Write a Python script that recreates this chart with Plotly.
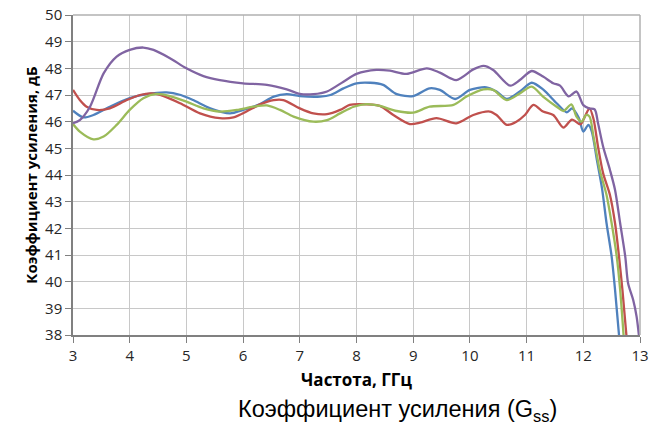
import plotly.graph_objects as go

# Frequency (GHz) / gain (dB) per series
blue_x = [3.0, 3.18, 3.36, 3.65, 4.0, 4.3, 4.65, 4.9, 5.12, 5.42, 5.77, 6.0, 6.3, 6.54, 6.77, 7.0, 7.36, 7.54, 7.77, 8.0,
          8.24, 8.47, 8.71, 9.0, 9.29, 9.47, 9.74, 10.0, 10.29, 10.47, 10.65, 10.88, 11.09, 11.29, 11.53, 11.71, 11.8,
          11.92, 12.0, 12.09, 12.15, 12.24, 12.33, 12.41, 12.5, 12.56, 12.63]
blue_y = [46.41, 46.16, 46.25, 46.56, 46.88, 47.03, 47.1, 47.0, 46.81, 46.5, 46.31, 46.44, 46.66, 46.94, 47.03, 46.96,
          46.94, 47.0, 47.25, 47.44, 47.46, 47.38, 47.03, 46.96, 47.25, 47.19, 46.85, 47.19, 47.29, 47.13, 46.85, 47.13,
          47.46, 47.21, 46.69, 46.35, 46.5, 46.15, 45.63, 45.88, 45.63, 44.56, 43.5, 42.19, 40.94, 39.69, 38.0]

red_x = [3.0, 3.12, 3.24, 3.42, 3.65, 3.95, 4.18, 4.39, 4.6, 4.89, 5.24, 5.59, 5.83, 6.06, 6.3, 6.54, 6.71, 7.0, 7.24,
         7.48, 7.71, 7.88, 8.06, 8.41, 8.65, 8.94, 9.12, 9.41, 9.76, 10.06, 10.35, 10.47, 10.65, 10.82, 10.97, 11.12,
         11.29, 11.47, 11.65, 11.8, 11.95, 12.03, 12.11, 12.18, 12.26, 12.35, 12.47, 12.56, 12.63, 12.69, 12.76]
red_y = [47.19, 46.81, 46.56, 46.44, 46.5, 46.81, 47.0, 47.06, 46.96, 46.69, 46.31, 46.13, 46.16, 46.38, 46.65, 46.81,
         46.81, 46.5, 46.31, 46.28, 46.44, 46.63, 46.66, 46.59, 46.25, 45.91, 45.96, 46.13, 45.94, 46.25, 46.38, 46.25,
         45.88, 46.0, 46.25, 46.63, 46.38, 46.25, 45.78, 46.08, 45.9, 46.2, 46.5, 46.1, 45.06, 44.06, 43.25, 42.19,
         40.94, 39.69, 38.0]

green_x = [3.0, 3.12, 3.36, 3.54, 3.77, 4.0, 4.24, 4.48, 4.71, 5.0, 5.3, 5.59, 5.89, 6.18, 6.42, 6.65, 6.89, 7.24,
           7.48, 7.71, 7.95, 8.18, 8.41, 8.71, 9.0, 9.29, 9.71, 9.94, 10.24, 10.41, 10.65, 10.88, 11.09, 11.29, 11.53,
           11.65, 11.79, 11.88, 11.97, 12.05, 12.11, 12.18, 12.29, 12.41, 12.5, 12.59, 12.65, 12.71]
green_y = [45.91, 45.63, 45.34, 45.44, 45.88, 46.44, 46.88, 47.04, 46.96, 46.75, 46.5, 46.38, 46.44, 46.56, 46.61,
           46.44, 46.19, 46.0, 46.06, 46.31, 46.56, 46.66, 46.59, 46.4, 46.34, 46.56, 46.63, 46.94, 47.21, 47.19, 46.81,
           47.06, 47.31, 46.94, 46.56, 46.4, 46.65, 46.19, 46.0, 46.25, 46.19, 45.44, 44.19, 43.25, 42.19, 40.94, 39.69,
           38.0]

purple_x = [3.0, 3.12, 3.3, 3.54, 3.77, 4.0, 4.24, 4.42, 4.71, 5.0, 5.3, 5.59, 6.0, 6.42, 6.77, 7.0, 7.24, 7.48, 7.77,
            8.0, 8.35, 8.59, 8.88, 9.24, 9.47, 9.76, 10.06, 10.24, 10.41, 10.71, 10.88, 11.09, 11.29, 11.47, 11.59,
            11.74, 11.88, 12.0, 12.1, 12.2, 12.26, 12.35, 12.47, 12.56, 12.65, 12.74, 12.79, 12.88, 12.94, 12.98]
purple_y = [45.94, 46.06, 46.56, 47.81, 48.44, 48.69, 48.78, 48.69, 48.38, 48.0, 47.71, 47.56, 47.44, 47.38, 47.21,
            47.04, 47.03, 47.13, 47.5, 47.79, 47.94, 47.91, 47.79, 48.0, 47.84, 47.56, 47.96, 48.09, 47.94, 47.35,
            47.56, 47.9, 47.69, 47.44, 47.35, 46.95, 47.13, 46.62, 46.5, 46.46, 45.94, 45.06, 44.19, 43.44, 42.19,
            40.94, 39.94, 39.31, 38.69, 38.0]

x_ticks = [3, 4, 5, 6, 7, 8, 9, 10, 11, 12, 13]
y_ticks = [38, 39, 40, 41, 42, 43, 44, 45, 46, 47, 48, 49, 50]

series = [
    (blue_x, blue_y, "#4F81BD"),
    (red_x, red_y, "#C0504D"),
    (green_x, green_y, "#9BBB59"),
    (purple_x, purple_y, "#8064A2"),
]

fig = go.Figure()
for xs, ys, col in series:
    fig.add_trace(go.Scatter(x=xs, y=ys, mode="lines",
                             line=dict(color=col, width=2.3, shape="spline", smoothing=0.8),
                             showlegend=False, hoverinfo="skip"))

FONT = "Open Sans, Noto Sans, sans-serif"
tick_font = dict(family=FONT, size=15, color="#262626")
fig.update_layout(
    width=652, height=427,
    margin=dict(l=73, r=12, t=15, b=92, autoexpand=False),
    paper_bgcolor="white", plot_bgcolor="white",
    xaxis=dict(range=[3, 13], tickvals=x_ticks, ticktext=[str(v) for v in x_ticks],
               showgrid=True, gridcolor="#C8C8C8", gridwidth=1.3,
               showline=True, linecolor="#808080", linewidth=1.5, mirror=False,
               ticks="outside", ticklen=6, tickcolor="#808080", tickwidth=1.2,
               tickfont=tick_font, zeroline=False,
               title=dict(text="<b>Частота, ГГц</b>", font=dict(family=FONT, size=17, color="#000"),
                          standoff=10)),
    yaxis=dict(range=[38, 50], tickvals=y_ticks, ticktext=[str(v) for v in y_ticks],
               showgrid=True, gridcolor="#C8C8C8", gridwidth=1.3,
               showline=True, linecolor="#808080", linewidth=1.5,
               ticks="outside", ticklen=6, tickcolor="#808080", tickwidth=1.2,
               tickfont=tick_font, zeroline=False,
               title=dict(text="<b>Коэффициент усиления, дБ</b>",
                          font=dict(family=FONT, size=15, color="#000"), standoff=4)),
)
# top and right frame lines (grid-coloured)
fig.add_shape(type="line", xref="paper", yref="paper", x0=0, x1=1, y0=1, y1=1,
              line=dict(color="#B0B0B0", width=1.5))
fig.add_shape(type="line", xref="paper", yref="paper", x0=1, x1=1, y0=0, y1=1,
              line=dict(color="#B0B0B0", width=1.5))

fig.add_annotation(text="Коэффициент усиления (G<sub>ss</sub>)", xref="paper", yref="paper",
                   x=(397 - 73) / (640 - 73), y=-(410 - 335) / 320, xanchor="center", yanchor="middle",
                   showarrow=False, font=dict(family="Liberation Sans, Arial, sans-serif", size=23.5, color="#000"))

fig.write_html("out.html", config={"displayModeBar": False})

# remove default page margin so the figure sits at the window's top-left corner
with open("out.html", "r", encoding="utf-8") as f:
    html = f.read()
html = html.replace("<head>", "<head><style>html,body{margin:0;padding:0;overflow:hidden;}</style>", 1)
with open("out.html", "w", encoding="utf-8") as f:
    f.write(html)
